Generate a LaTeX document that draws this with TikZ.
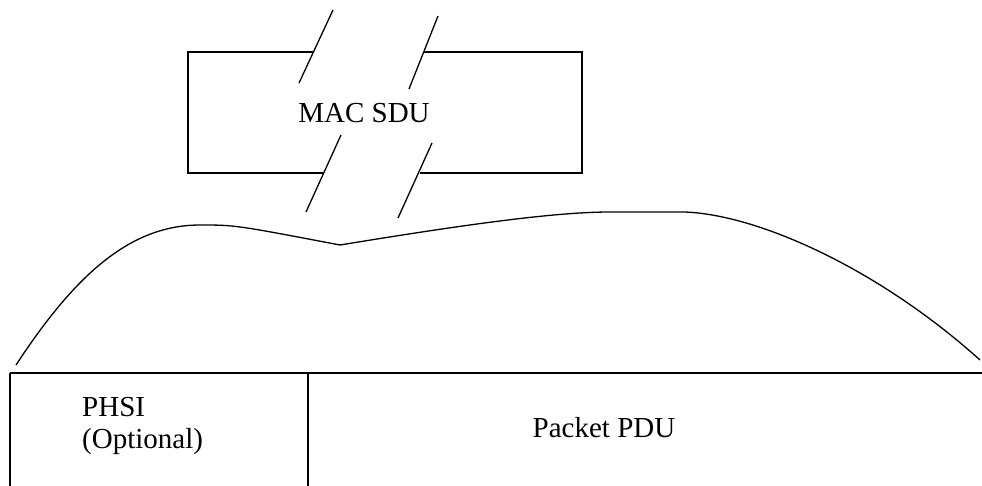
\documentclass[tikz,border=0pt]{standalone}
\usepackage{fontspec}
\setmainfont{Liberation Serif}
\usepackage{tikz}

\begin{document}
\begin{tikzpicture}[x=1pt,y=-1pt,font=\fontsize{29}{32}\selectfont]
				\clip (0,0) rectangle (982,485);
				% broken SDU box
				\draw[line width=1.8pt] (313,52) -- (188,52) -- (188,173) -- (323,173);
				\draw[line width=1.8pt] (424,52) -- (582,52) -- (582,173) -- (420,173);
				\foreach \xa/\ya/\xb/\yb in {299/83/333/10, 409/89/438/16, 341/135/306/212, 432/143/398/218}
				\draw[line width=1.3pt] (\xa,\ya) -- (\xb,\yb);
				\node (macsdu) at (364,113) {MAC SDU};
				% envelope
				\draw[line width=1.3pt] (16,365) .. controls (75,275) and (130,225) .. (200,225)
					.. controls (235,225) .. (340,245)
					.. controls (480,222) and (560,212) .. (610,212) -- (685,212)
					.. controls (760,215) and (880,270) .. (980,360);
				% PDU
				\draw[line width=1.8pt] (10,373) -- (990,373);
				\foreach \x in {10,308}
				\draw[line width=1.8pt] (\x,373) -- (\x,495);
				\node[anchor=west,align=left,inner sep=0pt] (phsi) at (82,426) {PHSI\\(Optional)};
				\node (packetpdu) at (604,428) {Packet PDU};
			\end{tikzpicture}
\end{document}
